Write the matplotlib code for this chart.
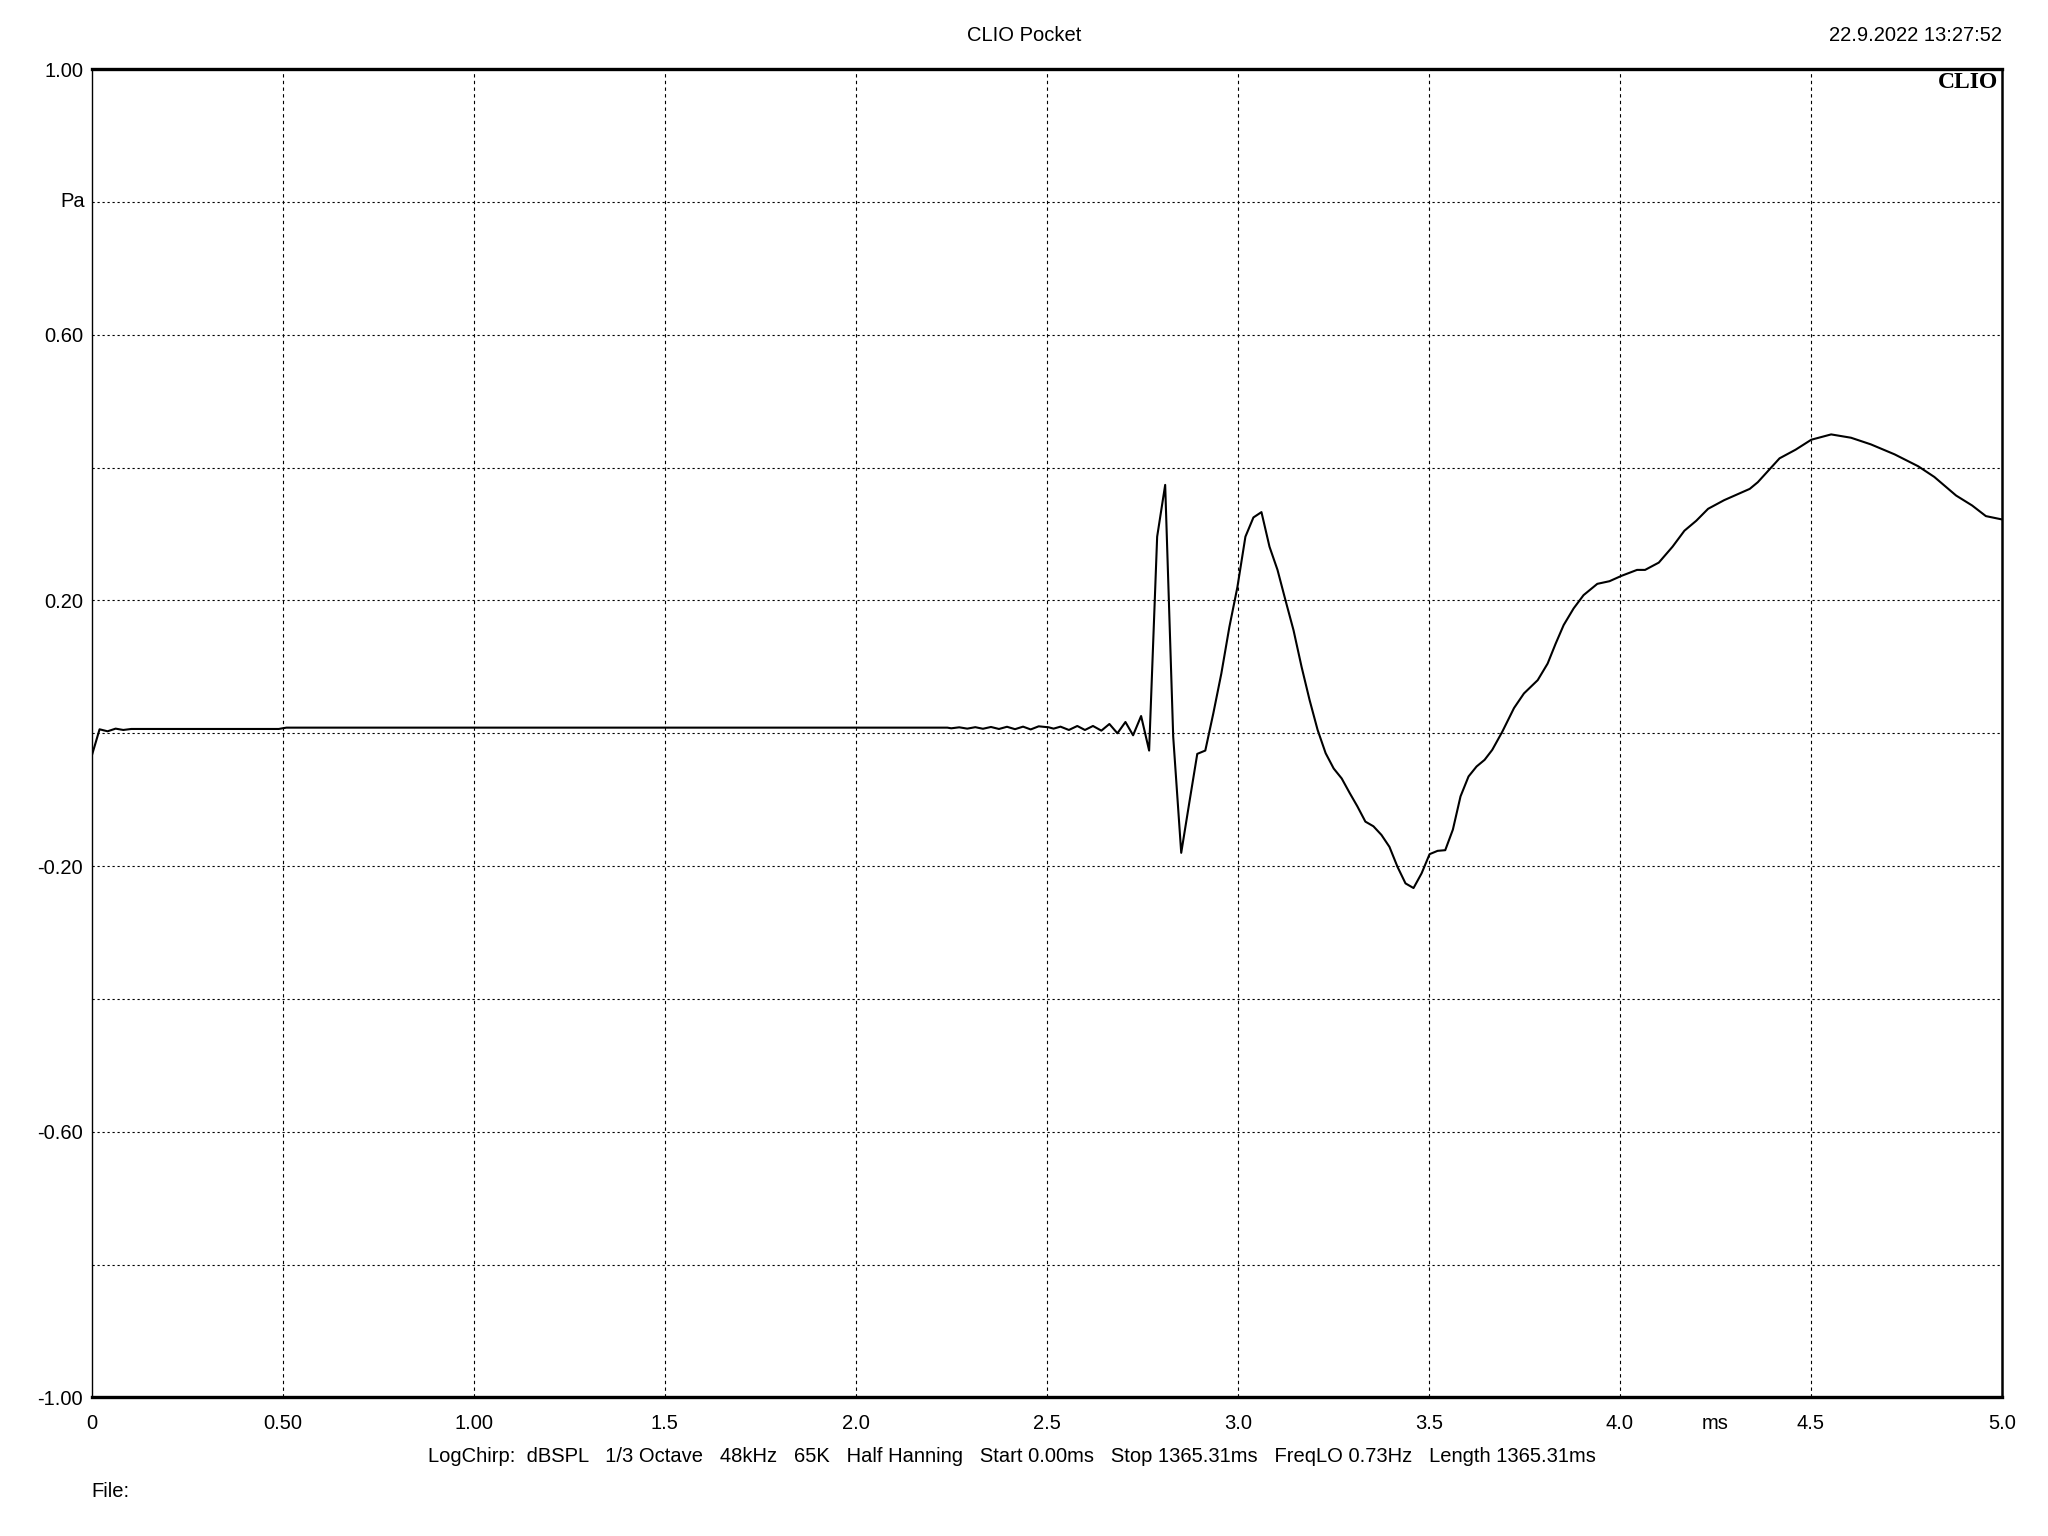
import matplotlib
matplotlib.use("Agg")
import matplotlib.pyplot as plt

# impulse response (time in ms, pressure in Pa)
time_ms = [
    0.0, 0.021, 0.042, 0.063, 0.083, 0.104, 0.49, 0.51, 2.24,
    2.250, 2.271, 2.292, 2.313, 2.333, 2.354, 2.375, 2.396, 2.417, 2.438,
    2.458, 2.479,
    2.505, 2.518, 2.536, 2.558, 2.580, 2.600, 2.621, 2.643, 2.664, 2.685,
    2.706, 2.726, 2.747, 2.768, 2.789, 2.810, 2.831, 2.852, 2.873, 2.894,
    2.915, 2.936, 2.957, 2.978, 2.999, 3.020, 3.041, 3.062, 3.083, 3.104,
    3.125, 3.146, 3.167, 3.188, 3.209, 3.230, 3.251, 3.272, 3.293, 3.313,
    3.334, 3.355, 3.376, 3.397, 3.418, 3.439, 3.460, 3.481, 3.502, 3.523,
    3.543, 3.563, 3.583, 3.604, 3.625, 3.646, 3.666, 3.692, 3.723, 3.749,
    3.785, 3.811, 3.832, 3.853, 3.879, 3.905, 3.941, 3.973, 4.004, 4.045,
    4.066, 4.102, 4.138, 4.169, 4.200, 4.231, 4.273, 4.340, 4.361, 4.418,
    4.460, 4.501, 4.553, 4.605, 4.657, 4.719, 4.781, 4.823, 4.880, 4.922,
    4.958, 5.000,
]
pressure_pa = [
    -0.035, 0.006, 0.003, 0.007, 0.005, 0.0065, 0.0065, 0.0085, 0.0085,
    0.0075, 0.0090, 0.0070, 0.0092, 0.0068, 0.0095, 0.0065, 0.0098, 0.0062,
    0.0100, 0.0058, 0.0105,
    0.009, 0.007, 0.010, 0.005, 0.011, 0.005, 0.011, 0.004, 0.014, 0.000,
    0.017, -0.003, 0.026, -0.026, 0.296, 0.374, -0.005, -0.180, -0.105, -0.031,
    -0.026, 0.030, 0.090, 0.160, 0.220, 0.296, 0.325, 0.333, 0.281, 0.246,
    0.200, 0.155, 0.100, 0.050, 0.005, -0.030, -0.053, -0.068, -0.090, -0.110,
    -0.133, -0.140, -0.153, -0.171, -0.201, -0.226, -0.233, -0.211, -0.182, -0.177,
    -0.176, -0.145, -0.095, -0.065, -0.050, -0.040, -0.025, 0.002, 0.038, 0.060,
    0.080, 0.105, 0.135, 0.163, 0.188, 0.208, 0.225, 0.229, 0.237, 0.246,
    0.246, 0.257, 0.281, 0.305, 0.320, 0.338, 0.351, 0.368, 0.378, 0.414,
    0.427, 0.442, 0.450, 0.445, 0.435, 0.420, 0.402, 0.386, 0.358, 0.343,
    0.327, 0.322,
]

x_ticks = [0, 0.5, 1.0, 1.5, 2.0, 2.5, 3.0, 3.5, 4.0, 4.5, 5.0]
x_labels = ["0", "0.50", "1.00", "1.5", "2.0", "2.5", "3.0", "3.5", "4.0", "4.5", "5.0"]
y_grid = [-0.8, -0.4, 0.0, 0.4, 0.8]
y_ticks = [-1.0, -0.6, -0.2, 0.2, 0.6, 1.0]
y_labels = ["-1.00", "-0.60", "-0.20", "0.20", "0.60", "1.00"]

footer = ("LogChirp:  dBSPL   1/3 Octave   48kHz   65K   Half Hanning   "
          "Start 0.00ms   Stop 1365.31ms   FreqLO 0.73Hz   Length 1365.31ms")

plt.rcParams['font.family'] = ['Liberation Sans', 'DejaVu Sans']
fs = 14.5

fig = plt.figure(figsize=(20.48, 15.36), dpi=100)
ax = fig.add_axes([0.0447, 0.0902, 0.9328, 0.8648])

ax.plot(time_ms, pressure_pa, color='black', linewidth=1.5)
ax.set_xlim(0, 5)
ax.set_ylim(-1, 1)

# dotted grid, every 0.5 ms and every 0.2 Pa
for x in x_ticks[1:-1]:
    ax.axvline(x, color='black', linewidth=0.8, linestyle=(0, (3, 3)))
for y in y_grid + y_ticks[1:-1]:
    ax.axhline(y, color='black', linewidth=0.8, linestyle=(0, (2, 2.5)))

ax.set_xticks(x_ticks)
ax.set_xticklabels(x_labels, fontsize=fs)
ax.set_yticks(y_ticks)
ax.set_yticklabels(y_labels, fontsize=fs)
ax.tick_params(axis='x', length=0, pad=12)
ax.tick_params(axis='y', length=0, pad=6)
ax.annotate("ms", xy=(4.25, -1.0), xytext=(0, -12), textcoords='offset points',
            fontsize=fs, ha='center', va='top', annotation_clip=False)
ax.text(-0.017, 0.8, "Pa", fontsize=fs, ha='right', va='center')

for side in ['top', 'bottom']:
    ax.spines[side].set_linewidth(2.4)
ax.spines['left'].set_linewidth(1.0)
ax.spines['right'].set_linewidth(1.8)

ax.text(0.998, 0.998, "CLIO", transform=ax.transAxes, ha='right', va='top',
        fontsize=17, fontweight='bold', family='Liberation Serif')

fig.text(0.5, 0.977, "CLIO Pocket", ha='center', va='center', fontsize=fs)
fig.text(0.9775, 0.977, "22.9.2022 13:27:52", ha='right', va='center', fontsize=fs)
fig.text(0.494, 0.0515, footer, ha='center', va='center', fontsize=fs)
fig.text(0.0447, 0.029, "File:", ha='left', va='center', fontsize=fs)

fig.savefig("out.png", dpi=100, facecolor='white')
